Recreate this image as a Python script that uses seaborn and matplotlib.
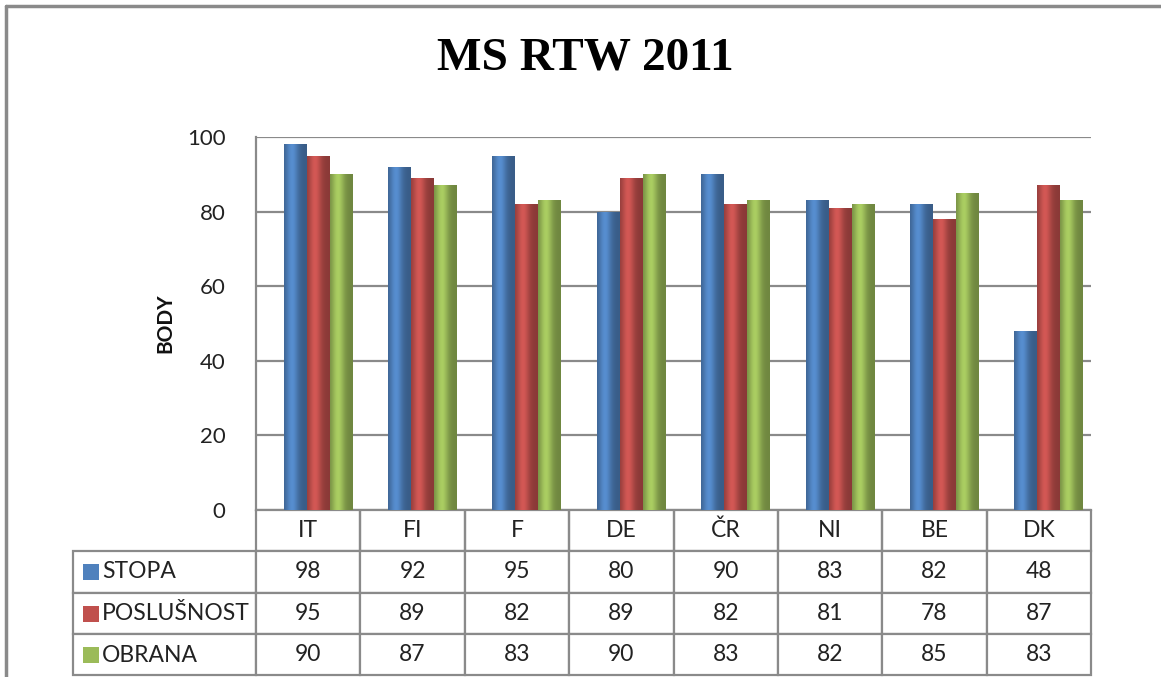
import numpy as np
import pandas as pd
import matplotlib
matplotlib.use("Agg")
import matplotlib.pyplot as plt
from matplotlib.lines import Line2D
from matplotlib.patches import Rectangle
import matplotlib.colors as mcolors
import matplotlib.transforms as mtransforms
import seaborn as sns

# ---- data ----
categories = ["IT", "FI", "F", "DE", "ČR", "NI", "BE", "DK"]
series_names = ["STOPA", "POSLUŠNOST", "OBRANA"]
stopa = [98, 92, 95, 80, 90, 83, 82, 48]
poslusnost = [95, 89, 82, 89, 82, 81, 78, 87]
obrana = [90, 87, 83, 90, 83, 82, 85, 83]
yticks = [0, 20, 40, 60, 80, 100]
title = "MS RTW 2011"
ylabel = "BODY"
colors = ["#4F81BD", "#C0504D", "#9BBB59"]

values = [stopa, poslusnost, obrana]
df = pd.DataFrame({
    "kategorie": np.repeat([categories], 3, axis=0).ravel(),
    "ukazatel": np.repeat(series_names, len(categories)),
    "body": np.concatenate(values),
})

sns.set_theme(style="white")
plt.rcParams["font.family"] = ["Lato", "DejaVu Sans"]

W, H = 1161, 677
fig = plt.figure(figsize=(W / 100, H / 100), dpi=100)
fig.patch.set_facecolor("white")

def px(x, y):
    return x / W, 1 - y / H

L, R, T, B = 256, 1091, 137, 510
ax = fig.add_axes([L / W, 1 - B / H, (R - L) / W, (B - T) / H])

sns.barplot(data=df, x="kategorie", y="body", hue="ukazatel", order=categories,
            hue_order=series_names, palette=colors, saturation=1, width=0.66,
            gap=0, ax=ax, legend=False, linewidth=0)

ax.set_ylim(0, 100)
ax.set_xlim(-0.5, len(categories) - 0.5)
# slight depth offset of the bars (3-D look)
shift = ax.transData + mtransforms.ScaledTranslation(0.10, 0.0, fig.dpi_scale_trans)
for p, col in zip(list(ax.patches), np.repeat(colors, len(categories))):
    if p.get_height() <= 0:
        continue
    p.set_transform(shift)
    base = np.array(mcolors.to_rgb(col))
    t = np.linspace(0, 1, 64)
    shade = 0.72 + 0.38 * np.exp(-((t - 0.35) / 0.28) ** 2)
    rgb = np.clip(base[None, :] * shade[:, None], 0, 1)
    img = rgb[None, :, :]
    x0, y0 = p.get_x(), p.get_y()
    im = ax.imshow(img, extent=[x0, x0 + p.get_width(), y0, y0 + p.get_height()],
                   aspect="auto", zorder=3, interpolation="bilinear", transform=shift)
    im.set_clip_path(p)
    p.set_zorder(2)

ax.set_ylim(0, 100)
ax.set_xlim(-0.5, len(categories) - 0.5)
ax.set_yticks(yticks)
ax.set_yticklabels([str(v) for v in yticks], fontsize=16, color="#222222")
ax.tick_params(axis="y", length=0, pad=22)
ax.set_xticks([])
ax.set_xlabel("")
ax.set_ylabel(ylabel, fontsize=15, fontweight="bold", labelpad=8, color="#111111")
ax.yaxis.grid(True, color="#8a8a8a", linewidth=1.6, zorder=0)
ax.set_axisbelow(True)
for s in ["top", "right"]:
    ax.spines[s].set_visible(False)
for s in ["left", "bottom"]:
    ax.spines[s].set_color("#8a8a8a")
    ax.spines[s].set_linewidth(1.6)

# data table
n = len(categories)
cell_text = [[""] + categories] + [[""] + [str(v) for v in vals] for vals in values]
lab_w = L - 73
col_w = (R - L) / n
tot = lab_w + col_w * n
colWidths = [lab_w / tot] + [col_w / tot] * n
x0 = (73 - L) / (R - L)
tb_bottom = 675
tbl = ax.table(cellText=cell_text, cellLoc="center", colWidths=colWidths,
               bbox=[x0, -(tb_bottom - B) / (B - T), tot / (R - L), (tb_bottom - B) / (B - T)])
tbl.auto_set_font_size(False)
for (r, c), cell in tbl.get_celld().items():
    cell.set_edgecolor("#8a8a8a")
    cell.set_linewidth(1.6)
    cell.get_text().set_fontsize(16.5)
    cell.get_text().set_color("#222222")
    if r == 0 and c == 0:
        cell.visible_edges = ""
    elif r == 0:
        cell.visible_edges = "LRB"

# row labels with colored squares
row_centers = [572, 614, 655]
for name, col, yc in zip(series_names, colors, row_centers):
    fx, fy = px(83, yc + 8)
    fig.add_artist(Rectangle((fx, fy), 16 / W, 16 / H, transform=fig.transFigure,
                             facecolor=col, edgecolor="none"))
    tx, ty = px(102, yc)
    fig.text(tx, ty, name, fontsize=16.5, color="#222222", va="center", ha="left")

# title
tx, ty = px(585, 58)
fig.text(tx, ty, title, fontsize=34, fontweight="bold", family="Liberation Serif",
         ha="center", va="center", color="black")

# outer frame
fig.add_artist(Line2D([6 / W, 6 / W], [0, 1 - 6 / H], color="#8a8a8a", lw=2.5,
                      transform=fig.transFigure))
fig.add_artist(Line2D([6 / W, 1], [1 - 6 / H, 1 - 6 / H], color="#8a8a8a", lw=2.5,
                      transform=fig.transFigure))

fig.savefig("out.png", dpi=100)
